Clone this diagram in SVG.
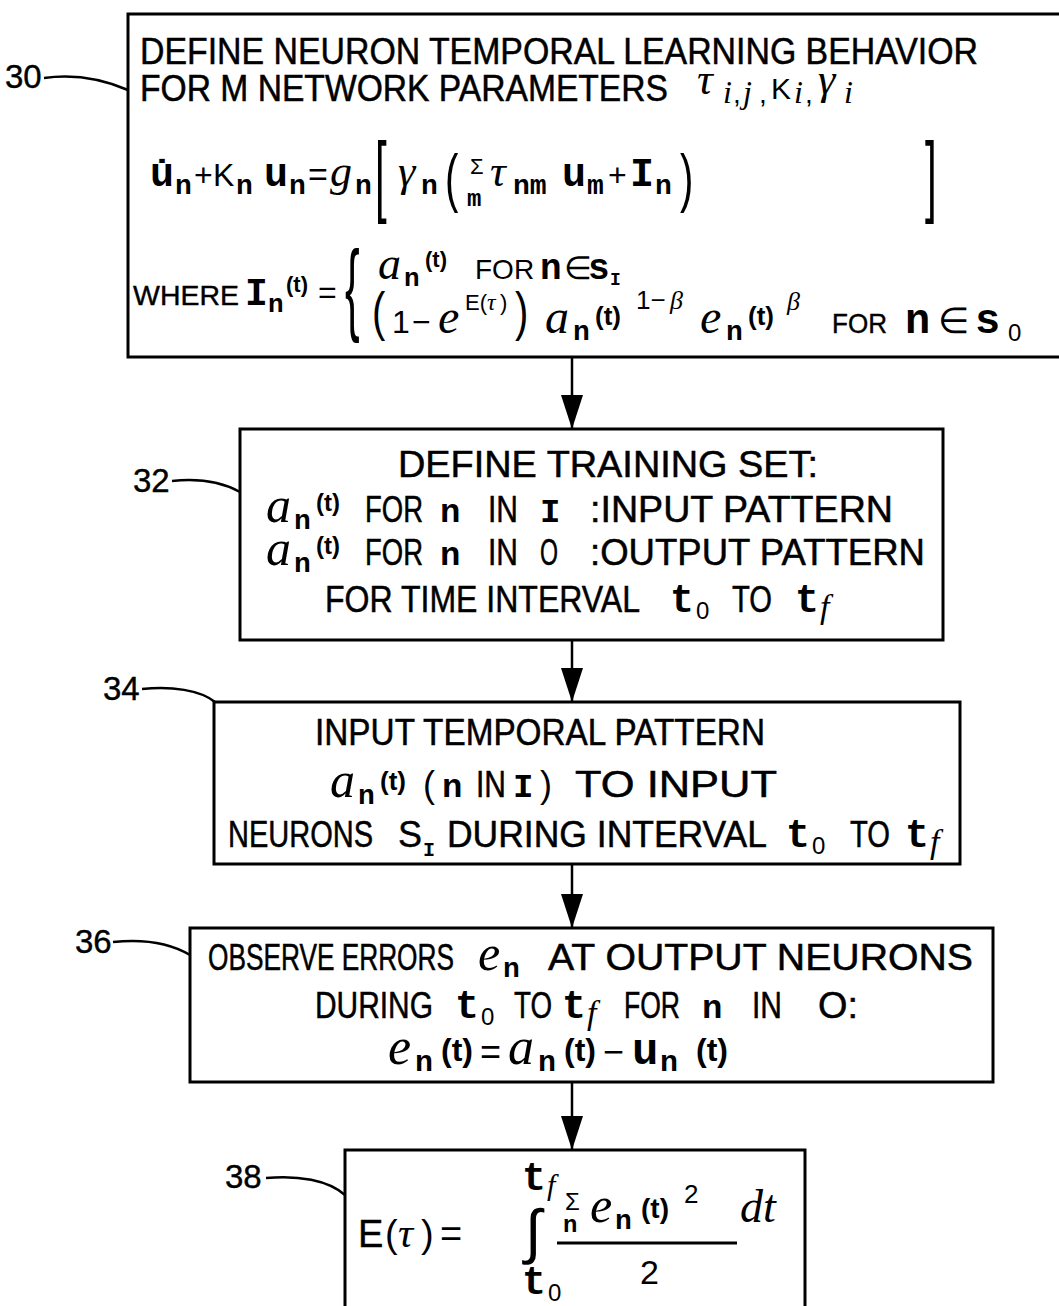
<svg xmlns="http://www.w3.org/2000/svg" width="1059" height="1306" viewBox="0 0 1059 1306">
<defs>
<marker id="ah" markerUnits="userSpaceOnUse" markerWidth="34" markerHeight="24" viewBox="0 0 34 24" refX="34" refY="12" orient="auto"><path d="M0,1 L34,12 L0,23 Z" fill="#000"/></marker>
</defs>
<style>
.box{fill:#fff;stroke:#000;stroke-width:3}
.lead{fill:none;stroke:#000;stroke-width:2.5}
.conn{stroke:#000;stroke-width:2.5;fill:none}
text{font-family:"Liberation Sans",Arial,sans-serif;fill:#000}
.c{font-size:36px;stroke:#000;stroke-width:0.5}
.lbl{font-size:33px;stroke:#000;stroke-width:0.4}
.mb{font-family:"Liberation Mono","Courier New",monospace;font-weight:bold}
.it{font-family:"Liberation Serif","Times New Roman",serif;font-style:italic}
.b{font-weight:bold}
</style>
<rect width="1059" height="1306" fill="#fff"/>

<g id="connectors">
<line class="conn" x1="572" y1="357" x2="572" y2="429" marker-end="url(#ah)"/>
<line class="conn" x1="572" y1="640" x2="572" y2="702" marker-end="url(#ah)"/>
<line class="conn" x1="572" y1="864" x2="572" y2="928" marker-end="url(#ah)"/>
<line class="conn" x1="572" y1="1082" x2="572" y2="1150" marker-end="url(#ah)"/>
</g>

<g id="n30">
<rect class="box" x="128" y="14" width="945" height="343"/>
<text class="c" x="140" y="64" textLength="838" lengthAdjust="spacingAndGlyphs">DEFINE NEURON TEMPORAL LEARNING BEHAVIOR</text>
<text class="c" x="140" y="101" textLength="528" lengthAdjust="spacingAndGlyphs">FOR M NETWORK PARAMETERS</text>
<text y="94"><tspan class="it" x="697" font-size="44">τ</tspan><tspan class="it" x="723" y="103" font-size="32">i</tspan><tspan x="733" y="103" font-size="28">,</tspan><tspan class="it" x="743" y="103" font-size="32">j</tspan><tspan x="759" y="103" font-size="28">,</tspan><tspan x="771" y="99" font-size="30">K</tspan><tspan class="it" x="794" y="103" font-size="32">i</tspan><tspan x="805" y="103" font-size="28">,</tspan><tspan class="it" x="818" y="94" font-size="44">γ</tspan><tspan class="it" x="844" y="103" font-size="32">i</tspan></text>
<text y="186"><tspan class="mb" x="150" font-size="40">u̇</tspan><tspan class="mb" x="175" y="194" font-size="28">n</tspan><tspan x="194" y="186" font-size="32">+</tspan><tspan x="213" font-size="32">K</tspan><tspan class="mb" x="236" y="194" font-size="28">n</tspan><tspan class="mb" x="264" y="186" font-size="40">u</tspan><tspan class="mb" x="289" y="194" font-size="28">n</tspan><tspan x="308" y="186" font-size="34">=</tspan><tspan class="it" x="330" font-size="44">g</tspan><tspan class="mb" x="355" y="194" font-size="28">n</tspan><tspan class="it" x="398" y="186" font-size="44">γ</tspan><tspan class="mb" x="421" y="194" font-size="28">n</tspan><tspan x="470" y="174" font-size="22">Σ</tspan><tspan class="mb" x="467" y="206" font-size="24">m</tspan><tspan class="it" x="490" y="186" font-size="44">τ</tspan><tspan class="mb" x="513" y="194" font-size="28">nm</tspan><tspan class="mb" x="562" y="186" font-size="40">u</tspan><tspan class="mb" x="587" y="194" font-size="28">m</tspan><tspan x="608" y="186" font-size="32">+</tspan><tspan class="mb" x="630" y="186" font-size="40">I</tspan><tspan class="mb" x="655" y="194" font-size="28">n</tspan></text>
<text transform="translate(375,205) scale(1,2.1)" font-size="42">[</text>
<text transform="translate(925,205) scale(1,2.1)" font-size="42">]</text>
<text transform="translate(445,200) scale(1,1.6)" font-size="40">(</text>
<text transform="translate(680,200) scale(1,1.6)" font-size="40">)</text>
<text x="133" y="305" font-size="28" stroke="#000" stroke-width="0.4" textLength="106" lengthAdjust="spacingAndGlyphs">WHERE</text>
<text y="305"><tspan class="mb" x="245" font-size="38">I</tspan><tspan class="mb" x="268" y="312" font-size="26">n</tspan><tspan class="b" x="286" y="292" font-size="22">(t)</tspan><tspan x="318" y="303" font-size="32">=</tspan></text>
<text transform="translate(345,322) scale(1,2.3)" font-size="44">{</text>
<text y="279"><tspan class="it" x="378" font-size="46">a</tspan><tspan class="mb" x="404" y="286" font-size="26">n</tspan><tspan class="b" x="425" y="267" font-size="22">(t)</tspan><tspan x="475" y="279" font-size="28">FOR</tspan><tspan class="mb" x="540" font-size="36">n</tspan><tspan x="564" font-size="32">∈</tspan><tspan class="mb" x="588" font-size="36">s</tspan><tspan class="mb" x="610" y="285" font-size="18">I</tspan></text>
<text transform="translate(372,330) scale(1,1.35)" font-size="40">(</text>
<text y="333"><tspan x="392" font-size="32">1</tspan><tspan x="412" font-size="32">−</tspan><tspan class="it" x="438" font-size="48">e</tspan><tspan x="465" y="310" font-size="22">E(</tspan><tspan class="it" x="487" font-size="24">τ</tspan><tspan x="500" font-size="22">)</tspan></text>
<text transform="translate(515,330) scale(1,1.35)" font-size="40">)</text>
<text y="333"><tspan class="it" x="545" font-size="48">a</tspan><tspan class="mb" x="573" y="340" font-size="28">n</tspan><tspan class="b" x="595" y="325" font-size="26">(t)</tspan><tspan x="636" y="309" font-size="26">1−</tspan><tspan class="it" x="670" y="309" font-size="26">β</tspan><tspan class="it" x="700" y="333" font-size="48">e</tspan><tspan class="mb" x="726" y="340" font-size="28">n</tspan><tspan class="b" x="748" y="325" font-size="26">(t)</tspan><tspan class="it" x="787" y="310" font-size="26">β</tspan></text>
<text x="832" y="333" font-size="28" stroke="#000" stroke-width="0.4" textLength="55" lengthAdjust="spacingAndGlyphs">FOR</text>
<text y="333"><tspan class="mb" x="905" font-size="42">n</tspan><tspan x="938" font-size="36">∈</tspan><tspan class="mb" x="975" font-size="42">s</tspan><tspan x="1008" y="341" font-size="24">0</tspan></text>
</g>

<g id="lbl30">
<text class="lbl" x="5" y="88">30</text>
<path class="lead" d="M44,78 C72,74 100,78 128,90"/>
</g>

<g id="n32">
<rect class="box" x="240" y="429" width="703" height="211"/>
<text class="c" x="398" y="477" textLength="420" lengthAdjust="spacingAndGlyphs">DEFINE TRAINING SET:</text>
<text y="522"><tspan class="it" x="266" font-size="50">a</tspan><tspan class="mb" x="294" y="529" font-size="28">n</tspan><tspan class="b" x="316" y="511" font-size="24">(t)</tspan></text>
<text class="c" x="365" y="522" textLength="58" lengthAdjust="spacingAndGlyphs">FOR</text>
<text class="mb" x="440" y="522" font-size="34">n</text>
<text class="c" x="488" y="522" textLength="30" lengthAdjust="spacingAndGlyphs">IN</text>
<text class="mb" x="540" y="522" font-size="34">I</text>
<text class="c" x="590" y="522" textLength="303" lengthAdjust="spacingAndGlyphs">:INPUT PATTERN</text>
<text y="565"><tspan class="it" x="266" font-size="50">a</tspan><tspan class="mb" x="294" y="572" font-size="28">n</tspan><tspan class="b" x="316" y="554" font-size="24">(t)</tspan></text>
<text class="c" x="365" y="565" textLength="58" lengthAdjust="spacingAndGlyphs">FOR</text>
<text class="mb" x="440" y="565" font-size="34">n</text>
<text class="c" x="488" y="565" textLength="30" lengthAdjust="spacingAndGlyphs">IN</text>
<text class="c" x="540" y="565" textLength="18" lengthAdjust="spacingAndGlyphs">O</text>
<text class="c" x="590" y="565" textLength="335" lengthAdjust="spacingAndGlyphs">:OUTPUT PATTERN</text>
<text class="c" x="325" y="612" textLength="315" lengthAdjust="spacingAndGlyphs">FOR TIME INTERVAL</text>
<text y="612"><tspan class="mb" x="670" font-size="40">t</tspan><tspan x="696" y="619" font-size="24">0</tspan></text>
<text class="c" x="732" y="612" textLength="40" lengthAdjust="spacingAndGlyphs">TO</text>
<text y="612"><tspan class="mb" x="795" font-size="40">t</tspan><tspan class="it" x="820" y="618" font-size="34">f</tspan></text>
</g>

<g id="lbl32">
<text class="lbl" x="133" y="492">32</text>
<path class="lead" d="M172,481 C200,478 222,482 240,492"/>
</g>

<g id="n34">
<rect class="box" x="214" y="702" width="746" height="162"/>
<text class="c" x="315" y="745" textLength="450" lengthAdjust="spacingAndGlyphs">INPUT TEMPORAL PATTERN</text>
<text y="797"><tspan class="it" x="330" font-size="50">a</tspan><tspan class="mb" x="358" y="804" font-size="28">n</tspan><tspan class="b" x="380" y="790" font-size="26">(t)</tspan><tspan x="423" y="797" font-size="36">(</tspan><tspan class="mb" x="442" font-size="34">n</tspan></text>
<text class="c" x="476" y="797" textLength="30" lengthAdjust="spacingAndGlyphs">IN</text>
<text y="797"><tspan class="mb" x="513" font-size="34">I</tspan><tspan x="540" font-size="36">)</tspan></text>
<text class="c" x="575" y="797" textLength="202" lengthAdjust="spacingAndGlyphs">TO INPUT</text>
<text class="c" x="228" y="847" textLength="145" lengthAdjust="spacingAndGlyphs">NEURONS</text>
<text y="847"><tspan x="398" font-size="36" stroke="#000" stroke-width="0.4">S</tspan><tspan class="mb" x="423" y="856" font-size="20">I</tspan></text>
<text class="c" x="447" y="847" textLength="320" lengthAdjust="spacingAndGlyphs">DURING INTERVAL</text>
<text y="847"><tspan class="mb" x="786" font-size="40">t</tspan><tspan x="812" y="854" font-size="24">0</tspan></text>
<text class="c" x="850" y="847" textLength="40" lengthAdjust="spacingAndGlyphs">TO</text>
<text y="847"><tspan class="mb" x="905" font-size="40">t</tspan><tspan class="it" x="930" y="853" font-size="34">f</tspan></text>
</g>

<g id="lbl34">
<text class="lbl" x="103" y="700">34</text>
<path class="lead" d="M142,689 C172,686 200,690 215,702"/>
</g>

<g id="n36">
<rect class="box" x="190" y="928" width="803" height="154"/>
<text class="c" x="208" y="970" textLength="246" lengthAdjust="spacingAndGlyphs">OBSERVE ERRORS</text>
<text y="970"><tspan class="it" x="478" font-size="50">e</tspan><tspan class="mb" x="503" y="977" font-size="28">n</tspan></text>
<text class="c" x="548" y="970" textLength="425" lengthAdjust="spacingAndGlyphs">AT OUTPUT NEURONS</text>
<text class="c" x="315" y="1018" textLength="118" lengthAdjust="spacingAndGlyphs">DURING</text>
<text y="1018"><tspan class="mb" x="455" font-size="40">t</tspan><tspan x="481" y="1025" font-size="24">0</tspan></text>
<text class="c" x="514" y="1018" textLength="38" lengthAdjust="spacingAndGlyphs">TO</text>
<text y="1018"><tspan class="mb" x="562" font-size="40">t</tspan><tspan class="it" x="587" y="1024" font-size="34">f</tspan></text>
<text class="c" x="624" y="1018" textLength="56" lengthAdjust="spacingAndGlyphs">FOR</text>
<text class="mb" x="702" y="1018" font-size="34">n</text>
<text class="c" x="752" y="1018" textLength="30" lengthAdjust="spacingAndGlyphs">IN</text>
<text class="c" x="818" y="1018" textLength="40" lengthAdjust="spacingAndGlyphs">O:</text>
<text y="1064"><tspan class="it" x="388" font-size="52">e</tspan><tspan class="mb" x="415" y="1071" font-size="30">n</tspan><tspan class="b" x="441" y="1061" font-size="32">(t)</tspan><tspan x="480" y="1064" font-size="36">=</tspan><tspan class="it" x="508" font-size="52">a</tspan><tspan class="mb" x="538" y="1071" font-size="30">n</tspan><tspan class="b" x="564" y="1061" font-size="32">(t)</tspan><tspan x="603" y="1064" font-size="36">−</tspan><tspan class="mb" x="632" font-size="44">u</tspan><tspan class="mb" x="660" y="1071" font-size="30">n</tspan><tspan class="b" x="696" y="1061" font-size="32">(t)</tspan></text>
</g>

<g id="lbl36">
<text class="lbl" x="75" y="953">36</text>
<path class="lead" d="M113,942 C142,939 170,943 190,955"/>
</g>

<g id="n38">
<rect class="box" x="345" y="1150" width="460" height="180"/>
<text y="1247"><tspan x="358" font-size="38" stroke="#000" stroke-width="0.4">E</tspan><tspan x="385" font-size="38">(</tspan><tspan class="it" x="398" font-size="42">τ</tspan><tspan x="421" font-size="38">)</tspan><tspan x="440" font-size="38">=</tspan></text>
<text y="1190"><tspan class="mb" x="522" font-size="40">t</tspan><tspan class="it" x="547" y="1195" font-size="30">f</tspan></text>
<text x="525" y="1252" font-family="DejaVu Sans, sans-serif" font-size="60">∫</text>
<text y="1294"><tspan class="mb" x="522" font-size="40">t</tspan><tspan x="548" y="1301" font-size="24">0</tspan></text>
<text y="1210"><tspan x="565" font-size="24">Σ</tspan><tspan class="mb" x="563" y="1232" font-size="24">n</tspan></text>
<text y="1222"><tspan class="it" x="590" font-size="50">e</tspan><tspan class="mb" x="615" y="1229" font-size="28">n</tspan><tspan class="b" x="641" y="1218" font-size="28">(t)</tspan><tspan x="684" y="1203" font-size="26">2</tspan><tspan class="it" x="740" y="1222" font-size="46">dt</tspan></text>
<line x1="557" y1="1243" x2="737" y2="1243" stroke="#000" stroke-width="3"/>
<text x="640" y="1284" font-size="34">2</text>
</g>

<g id="lbl38">
<text class="lbl" x="225" y="1188">38</text>
<path class="lead" d="M266,1178 C298,1175 328,1180 345,1195"/>
</g>
</svg>
